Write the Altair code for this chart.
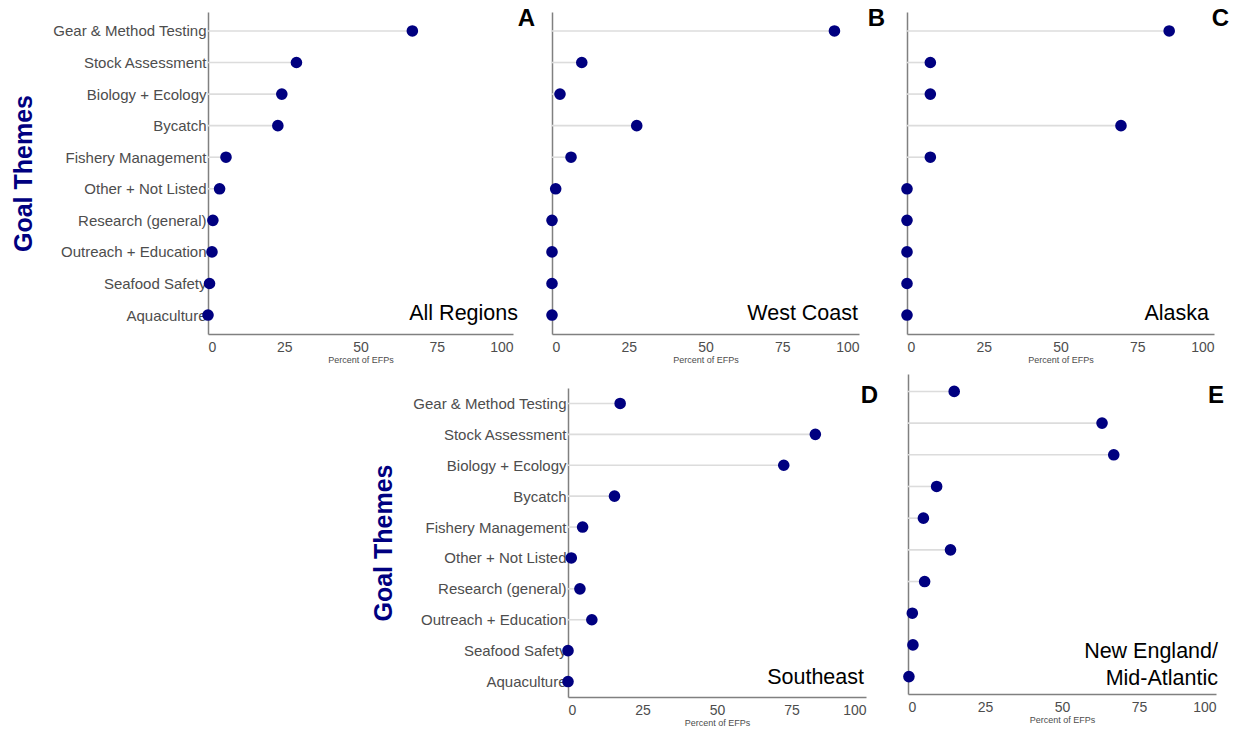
import altair as alt
import pandas as pd

themes = ["Gear & Method Testing", "Stock Assessment", "Biology + Ecology", "Bycatch",
          "Fishery Management", "Other + Not Listed", "Research (general)",
          "Outreach + Education", "Seafood Safety", "Aquaculture"]

all_regions = [67, 29, 24.2, 22.9, 5.9, 3.8, 1.6, 1.3, 0.5, 0]
west_coast = [92, 9.7, 2.6, 27.6, 6.2, 1.2, 0, 0, 0, 0]
alaska = [85.4, 7.6, 7.6, 69.7, 7.6, 0, 0, 0, 0, 0]
southeast = [17.5, 83, 72.4, 15.6, 4.9, 1.1, 4, 8, 0, 0]
ne_midatlantic = [15, 63, 66.8, 9.3, 5, 13.8, 5.4, 1.4, 1.6, 0.3]

x_ticks = [0, 25, 50, 75, 100]

FONT = "Liberation Sans"
NAVY = "#000080"


def panel(vals, region, letter, width, height, xrange, yrange, ypad,
          show_labels, letter_pos, region_pos):
    df = pd.DataFrame({"theme": themes, "pct": vals, "zero": [0] * len(vals)})
    yscale = alt.Scale(type="point", domain=themes, padding=ypad, range=yrange)
    xscale = alt.Scale(domain=[0, 100], range=xrange)
    if show_labels:
        yaxis = alt.Axis(title="Goal Themes", labels=True, ticks=False, grid=False,
                         domainColor="#808080", domainWidth=1.5,
                         labelFont=FONT, labelFontSize=15, labelColor="#4d4d4d",
                         labelPadding=2, titleFont=FONT, titleFontSize=25,
                         titleFontWeight="bold", titleColor=NAVY, titlePadding=16)
    else:
        yaxis = alt.Axis(title=None, labels=False, ticks=False, grid=False,
                         domainColor="#808080", domainWidth=1.5)
    xaxis = alt.Axis(values=x_ticks, title="Percent of EFPs", ticks=False, grid=False,
                     domainColor="#808080", domainWidth=1.5,
                     labelFont=FONT, labelFontSize=14, labelColor="#4d4d4d",
                     labelPadding=6, titleFont=FONT, titleFontSize=9,
                     titleFontWeight="normal", titleColor="#4d4d4d", titlePadding=1)
    base = alt.Chart(df)
    rules = base.mark_rule(color="#dcdcdc", strokeWidth=1.6).encode(
        y=alt.Y("theme:N", scale=yscale, axis=yaxis, sort=themes),
        x=alt.X("zero:Q", scale=xscale, axis=xaxis),
        x2="pct:Q",
    )
    dots = base.mark_circle(color=NAVY, opacity=1, size=135).encode(
        y=alt.Y("theme:N", scale=yscale, sort=themes),
        x=alt.X("pct:Q", scale=xscale),
    )
    lt = alt.Chart(pd.DataFrame({"t": [letter]})).mark_text(
        font=FONT, fontSize=24, fontWeight="bold", color="black",
        align="right", baseline="alphabetic").encode(
        text="t:N", x=alt.value(letter_pos[0]), y=alt.value(letter_pos[1]))
    rt = alt.Chart(pd.DataFrame({"t": [region]})).mark_text(
        font=FONT, fontSize=21.5, color="black", align="right",
        baseline="alphabetic", lineBreak="\n", lineHeight=27).encode(
        text="t:N", x=alt.value(region_pos[0]), y=alt.value(region_pos[1]))
    return alt.layer(rules, dots, lt, rt).properties(width=width, height=height)


A = panel(all_regions, "All Regions", "A", 305, 322, [0, 305], [0, 322], 0.6, True,
          (327, 14), (310, 308))
B = panel(west_coast, "West Coast", "B", 316, 322, [0, 307], [0, 322], 0.6, False,
          (333, 14), (306, 308))
C = panel(alaska, "Alaska", "C", 307, 322, [0, 307], [0, 322], 0.6, False,
          (322, 14), (302, 308))
D = panel(southeast, "Southeast", "D", 298, 323, [0, 298], [14, 323], 0.5, True,
          (310, 29), (296, 310))
E = panel(ne_midatlantic, "New England/\nMid-Atlantic", "E", 308, 320, [0, 308],
          [0, 320], 0.55, False, (316, 29), (310, 284))

spacer = alt.Chart(pd.DataFrame({"t": [""]})).mark_text().encode(
    text="t:N", x=alt.value(0), y=alt.value(0)).properties(width=318, height=320)

top = alt.hconcat(A, B, C, spacing=39, bounds="flush")
bottom = alt.hconcat(spacer, D, E, spacing=42, bounds="flush")

chart = alt.vconcat(top, bottom, spacing=4).properties(
    padding={"left": 11, "top": 7, "right": 5, "bottom": 5},
    background="white",
).configure_view(stroke=None)

chart.save("out.html", embed_options={"renderer": "svg", "actions": False})
